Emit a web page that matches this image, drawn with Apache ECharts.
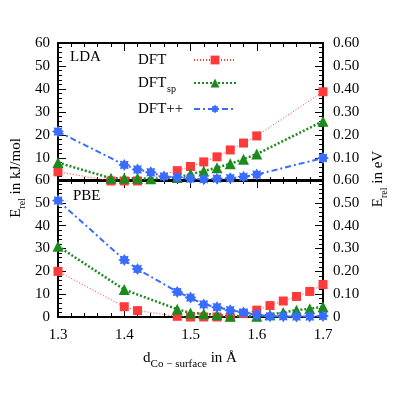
<!DOCTYPE html>
<html>
<head>
<meta charset="utf-8">
<script src="https://cdn.jsdelivr.net/npm/echarts@6/dist/echarts.min.js"></script>
<style>
  html, body { margin: 0; padding: 0; background: #fff; }
  #chart { width: 415px; height: 415px; }
</style>
</head>
<body>
<div id="chart"></div>
<script>
  // LDA (upper panel), kJ/mol
  const ldaDftX = [1.30, 1.38, 1.40, 1.42, 1.48, 1.50, 1.52, 1.54, 1.56, 1.58, 1.60, 1.70];
  const ldaDftY = [4.0, 0.0, 0.0, 0.0, 4.5, 6.3, 8.3, 10.5, 13.5, 16.5, 19.6, 38.8];
  const ldaSpX = [1.30, 1.38, 1.40, 1.42, 1.44, 1.48, 1.50, 1.52, 1.54, 1.56, 1.58, 1.60, 1.70];
  const ldaSpY = [8.0, 1.2, 1.2, 1.2, 1.0, 1.5, 3.0, 4.3, 5.8, 7.5, 9.5, 11.7, 26.0];
  const ldaPpX = [1.30, 1.40, 1.42, 1.44, 1.46, 1.48, 1.50, 1.52, 1.54, 1.56, 1.58, 1.60, 1.70];
  const ldaPpY = [21.5, 7.0, 5.0, 3.8, 2.0, 1.6, 1.0, 0.8, 1.0, 1.2, 1.8, 2.8, 10.0];

  // PBE (lower panel), kJ/mol
  const pbeDftX = [1.30, 1.40, 1.42, 1.48, 1.50, 1.52, 1.54, 1.56, 1.58, 1.60, 1.62, 1.64, 1.66, 1.68, 1.70];
  const pbeDftY = [20.0, 4.5, 2.8, 0.3, 0.0, 0.0, 0.0, 0.0, 1.5, 3.0, 5.0, 7.0, 9.0, 11.2, 14.2];
  const pbeSpX = [1.30, 1.40, 1.48, 1.50, 1.52, 1.54, 1.56, 1.60, 1.62, 1.64, 1.66, 1.68, 1.70];
  const pbeSpY = [31.0, 12.0, 3.4, 1.8, 1.4, 1.0, 0.3, 0.3, 1.0, 2.0, 3.0, 3.6, 4.5];
  const pbePpX = [1.30, 1.40, 1.42, 1.48, 1.50, 1.52, 1.54, 1.56, 1.58, 1.60, 1.62, 1.64, 1.66, 1.68, 1.70];
  const pbePpY = [51.0, 25.0, 21.0, 11.0, 8.5, 5.5, 4.3, 3.0, 2.0, 1.0, 0.3, 0.3, 0.2, 0.2, 0.4];

  const seriesNames = ['DFT', 'DFT_sp', 'DFT++'];

  const FONT = 'Liberation Serif';
  const RED = '#ff3a3a';
  const GREEN = '#1c8a1c';
  const BLUE = '#3a6cff';
  const STAR = 'path://M100,50L80.5,62.6L85.4,85.4L62.6,80.5L50,100L37.4,80.5L14.6,85.4L19.5,62.6L0,50L19.5,37.4L14.6,14.6L37.4,19.5L50,0L62.6,19.5L85.4,14.6L80.5,37.4Z';

  const zip = (xs, ys) => xs.map((x, i) => [x, ys[i]]);

  const chart = echarts.init(document.getElementById('chart'));

  const textStyle = { fontFamily: FONT, fontSize: 15, color: '#000' };
  const subStyle = { fontFamily: FONT, fontSize: 10, lineHeight: 10, padding: [9, 0, 0, 0], verticalAlign: 'top' };

  function xAxis(grid, pos, labels) {
    return {
      type: 'value', gridIndex: grid, position: pos,
      min: 1.3, max: 1.7, interval: 0.1,
      axisLine: { show: true, onZero: false, lineStyle: { color: '#000', width: 2 } },
      axisTick: { show: true, inside: true, length: 8, lineStyle: { color: '#000', width: 1 } },
      minorTick: { show: true, splitNumber: 5, length: 4, lineStyle: { color: '#000' } },
      splitLine: { show: false },
      axisLabel: Object.assign({ show: labels, margin: 11, formatter: v => v.toFixed(1) }, textStyle)
    };
  }

  function yAxis(grid, pos, eV, hideMin) {
    return {
      type: 'value', gridIndex: grid, position: pos,
      min: 0, max: eV ? 0.6 : 60, interval: eV ? 0.1 : 10,
      axisLine: { show: true, lineStyle: { color: '#000', width: 2 } },
      axisTick: { show: true, inside: true, length: 8, lineStyle: { color: '#000', width: 1 } },
      minorTick: { show: true, splitNumber: 5, length: 4, lineStyle: { color: '#000' } },
      splitLine: { show: false },
      axisLabel: Object.assign({
        margin: eV ? 10 : 8,
        showMinLabel: !hideMin,
        formatter: v => eV ? (v === 0 ? '0' : v.toFixed(2)) : String(Math.round(v))
      }, textStyle)
    };
  }

  function line(name, xi, yi, data, color, lineType, width, symbol, size) {
    return {
      name: name, type: 'line', xAxisIndex: xi, yAxisIndex: yi,
      data: data, clip: false,
      symbol: symbol, symbolSize: size,
      itemStyle: { color: color },
      lineStyle: { color: color, type: lineType, width: width },
      emphasis: { disabled: true },
      animation: false
    };
  }

  const option = {
    backgroundColor: '#fff',
    animation: false,
    grid: [
      { left: 58, top: 43, width: 265, height: 138, show: true, borderColor: '#000', borderWidth: 2 },
      { left: 58, top: 180, width: 265, height: 137, show: true, borderColor: '#000', borderWidth: 2 }
    ],
    xAxis: [
      xAxis(0, 'bottom', false),
      xAxis(0, 'top', false),
      xAxis(1, 'bottom', true),
      xAxis(1, 'top', false)
    ],
    yAxis: [
      yAxis(0, 'left', false, true),
      yAxis(0, 'right', true, true),
      yAxis(1, 'left', false, false),
      yAxis(1, 'right', true, false)
    ],
    legend: {
      orient: 'vertical', left: 133, top: 47,
      align: 'right', itemGap: 7,
      itemWidth: 42, itemHeight: 11,
      data: seriesNames,
      formatter: n => n === 'DFT_sp' ? '{c|DFT}{s|sp}' : '{a|' + n + '}',
      textStyle: {
        fontFamily: FONT, fontSize: 15, color: '#000', lineHeight: 16,
        rich: {
          a: { fontFamily: FONT, fontSize: 15, width: 51, align: 'left' },
          c: { fontFamily: FONT, fontSize: 15, width: 29, align: 'left' },
          s: Object.assign({ width: 22, align: 'left' }, subStyle)
        }
      }
    },
    series: [
      line('DFT', 0, 0, zip(ldaDftX, ldaDftY), RED, [1, 2], 1, 'rect', 9),
      line('DFT_sp', 0, 0, zip(ldaSpX, ldaSpY), GREEN, [2, 2], 2.5, 'triangle', 11),
      line('DFT++', 0, 0, zip(ldaPpX, ldaPpY), BLUE, [6, 3, 2, 3], 2, STAR, 12),
      line('DFT', 2, 2, zip(pbeDftX, pbeDftY), RED, [1, 2], 1, 'rect', 9),
      line('DFT_sp', 2, 2, zip(pbeSpX, pbeSpY), GREEN, [2, 2], 2.5, 'triangle', 11),
      line('DFT++', 2, 2, zip(pbePpX, pbePpY), BLUE, [6, 3, 2, 3], 2, STAR, 12)
    ],
    graphic: [
      { type: 'text', left: 70, top: 50, style: { text: 'LDA', font: '15px ' + FONT, fill: '#000' } },
      { type: 'text', left: 73, top: 189, style: { text: 'PBE', font: '15px ' + FONT, fill: '#000' } },
      {
        type: 'text', x: 16, y: 178, rotation: Math.PI / 2,
        style: {
          text: 'E{sub|rel} in kJ/mol', fill: '#000', fontFamily: FONT, fontSize: 15,
          align: 'center', verticalAlign: 'middle', lineHeight: 16,
          rich: { sub: subStyle }
        }
      },
      {
        type: 'text', x: 378, y: 179, rotation: Math.PI / 2,
        style: {
          text: 'E{sub|rel} in eV', fill: '#000', fontFamily: FONT, fontSize: 15,
          align: 'center', verticalAlign: 'middle', lineHeight: 16,
          rich: { sub: subStyle }
        }
      },
      {
        type: 'text', x: 190, y: 358,
        style: {
          text: 'd{sub|Co \u2212 surface} in Å', fill: '#000', fontFamily: FONT, fontSize: 15,
          align: 'center', verticalAlign: 'middle', lineHeight: 16,
          rich: { sub: Object.assign({}, subStyle, { fontSize: 11, lineHeight: 11 }) }
        }
      }
    ]
  };

  chart.setOption(option);
</script>
</body>
</html>
